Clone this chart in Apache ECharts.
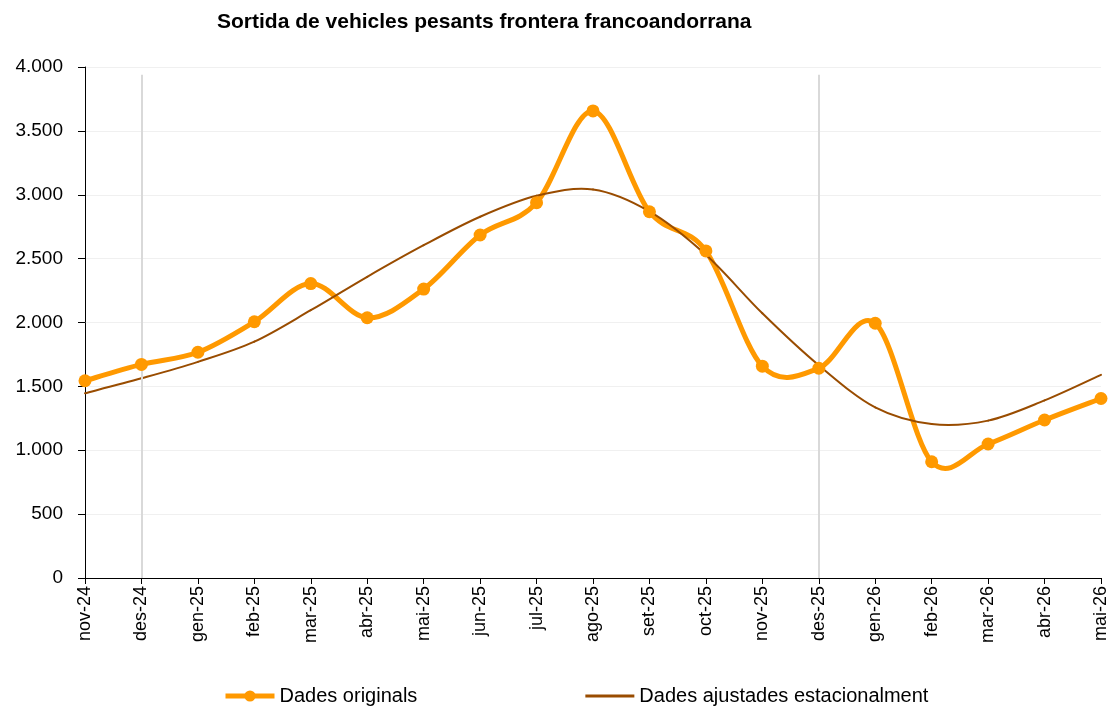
<!DOCTYPE html>
<html>
<head>
<meta charset="utf-8">
<script src="https://cdn.jsdelivr.net/npm/echarts@6/dist/echarts.min.js"></script>
<style>
  html, body { margin: 0; padding: 0; background: #fff; }
  #chart { width: 1118px; height: 715px; }
</style>
</head>
<body>
<div id="chart"></div>
<script>
// mesos
var mesos = ['nov-24', 'des-24', 'gen-25', 'feb-25', 'mar-25', 'abr-25', 'mai-25', 'jun-25', 'jul-25',
    'ago-25', 'set-25', 'oct-25', 'nov-25', 'des-25', 'gen-26', 'feb-26', 'mar-26', 'abr-26', 'mai-26']
// dades originals
var originals = [1544, 1672, 1767, 2006, 2305, 2037, 2262, 2685, 2938,
    3656, 2867, 2560, 1658, 1642, 1994, 910, 1049, 1237, 1405]
// dades ajustades estacionalment
var ajustades = [1446, 1563, 1692, 1850, 2096, 2358, 2605, 2828, 2992,
    3042, 2870, 2530, 2072, 1665, 1335, 1205, 1232, 1390, 1590]
// línies verticals (desembre)
var marques = ['des-24', 'des-25']

var font = '"Liberation Sans", Arial, sans-serif'
var TARONJA = '#FF9900'
var MARRO = '#994C00'
var chart = echarts.init(document.getElementById('chart'))

// corba suavitzada tipus Excel (Catmull-Rom -> Bezier), un tram per punt
function corba(valors, color, gruix) {
    return function (params, api) {
        var i = params.dataIndex
        var n = valors.length
        if (i >= n - 1) return null
        var p = function (k) {
            k = Math.max(0, Math.min(n - 1, k))
            return api.coord([k, valors[k]])
        }
        var p0 = p(i - 1), p1 = p(i), p2 = p(i + 1), p3 = p(i + 2)
        return {
            type: 'bezierCurve',
            shape: {
                x1: p1[0], y1: p1[1],
                x2: p2[0], y2: p2[1],
                cpx1: p1[0] + (p2[0] - p0[0]) / 6,
                cpy1: p1[1] + (p2[1] - p0[1]) / 6,
                cpx2: p2[0] - (p3[0] - p1[0]) / 6,
                cpy2: p2[1] - (p3[1] - p1[1]) / 6
            },
            style: { stroke: color, lineWidth: gruix, fill: null, lineCap: 'round' }
        }
    }
}

var option = {
    backgroundColor: '#fff',
    animation: false,
    title: {
        text: 'Sortida de vehicles pesants frontera francoandorrana',
        left: 212,
        top: 7,
        textStyle: { fontFamily: font, fontSize: 21, fontWeight: 'bold', color: '#000' }
    },
    legend: {
        bottom: 4,
        left: 218,
        itemGap: 168,
        itemWidth: 49,
        itemHeight: 14,
        textStyle: { fontFamily: font, fontSize: 20, color: '#000' },
        data: [{
            name: 'Dades originals',
            lineStyle: { color: TARONJA, width: 5, opacity: 1 }
        }, {
            name: 'Dades ajustades estacionalment',
            icon: 'path://M0,0H50V3H0Z',
            itemStyle: { color: MARRO }
        }]
    },
    grid: { left: 85, right: 17, top: 67, bottom: 137 },
    xAxis: {
        type: 'category',
        data: mesos,
        boundaryGap: false,
        axisLine: { lineStyle: { color: '#000', width: 1 } },
        axisTick: { show: true, length: 6, lineStyle: { color: '#000' } },
        axisLabel: { rotate: 90, fontFamily: font, fontSize: 18, color: '#000', margin: 8, interval: 0 },
        splitLine: { show: false }
    },
    yAxis: {
        type: 'value',
        min: 0,
        max: 4000,
        interval: 500,
        axisLine: { show: true, lineStyle: { color: '#000', width: 1 } },
        axisTick: { show: true, length: 7, lineStyle: { color: '#000' } },
        axisLabel: {
            fontFamily: font, fontSize: 19, color: '#000', margin: 22,
            formatter: function (v) { return String(v).replace(/\B(?=(\d{3})+(?!\d))/g, '.') }
        },
        splitLine: { show: true, lineStyle: { color: '#f0f0f0', width: 1 } }
    },
    series: [{
        name: 'Dades originals',
        type: 'line',
        data: originals,
        symbol: 'circle',
        symbolSize: 13,
        z: 5,
        lineStyle: { width: 0, opacity: 0 },
        itemStyle: { color: TARONJA },
        markLine: {
            silent: true,
            symbol: ['none', 'none'],
            label: { show: false },
            lineStyle: { color: '#d9d9d9', width: 2, type: 'solid' },
            data: marques.map(function (m) {
                return [{ coord: [m, 3940] }, { coord: [m, 0] }]
            })
        }
    }, {
        name: 'Dades originals',
        type: 'custom',
        renderItem: corba(originals, TARONJA, 5),
        data: originals.map(function (v, i) { return [i, v] }),
        z: 3,
        silent: true
    }, {
        name: 'Dades ajustades estacionalment',
        type: 'custom',
        renderItem: corba(ajustades, MARRO, 2),
        data: ajustades.map(function (v, i) { return [i, v] }),
        z: 4,
        silent: true
    }]
}
chart.setOption(option)
</script>
</body>
</html>
